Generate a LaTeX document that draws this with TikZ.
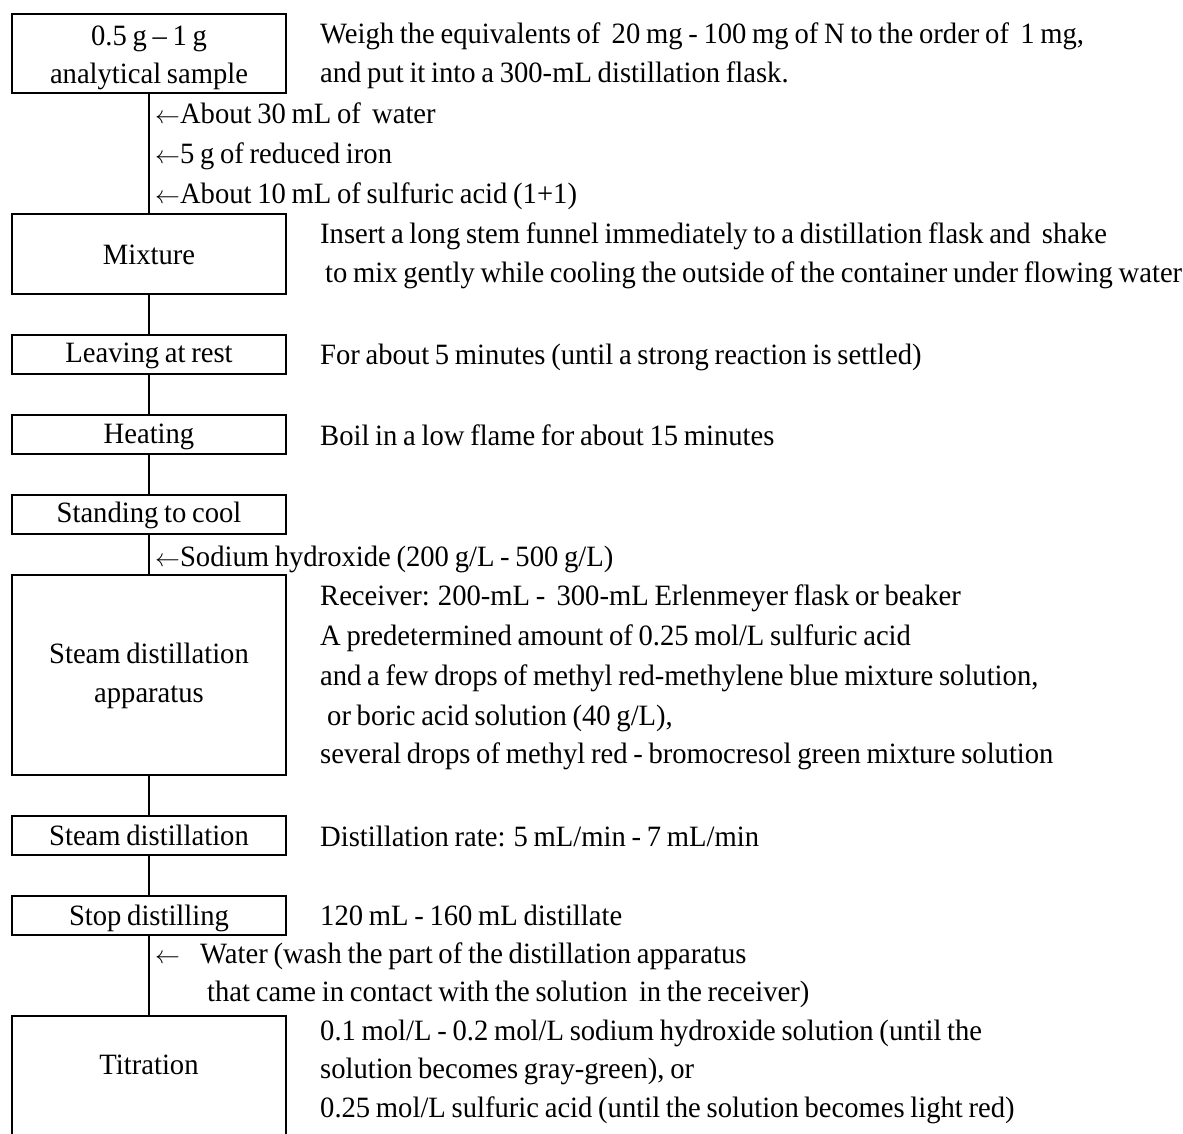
\documentclass[tikz,border=0pt]{standalone}
\usepackage{fontspec}
\setmainfont{Liberation Serif}[FakeStretch=0.97,WordSpace=0.8]
\newcommand\myfs{\fontsize{29.5}{38}\selectfont}
\newcommand\larr{$\leftarrow$}
\newcommand\wsp{\hspace{0.38em}}
\begin{document}
\begin{tikzpicture}[x=1pt,y=-1pt,
  box/.style={draw,line width=1.6pt,minimum width=274pt,inner sep=0pt},
  conn/.style={line width=1.6pt},
  txt/.style={anchor=base west,inner sep=0pt,font=\myfs},
  ctxt/.style={anchor=base,inner sep=0pt,font=\myfs}]
\useasboundingbox (0,0) rectangle (1183,1133);
\clip (0,0) rectangle (1183,1133);
% boxes
\node[box,minimum height=79pt] (b1) at (149,53.5) {};
\node[box,minimum height=80pt] (mix) at (149,254) {};
\node[box,minimum height=39pt] (rest) at (149,354.5) {};
\node[box,minimum height=39pt] (heat) at (149,434.5) {};
\node[box,minimum height=39pt] (cool) at (149,514.5) {};
\node[box,minimum height=200pt] (sda) at (149,675) {};
\node[box,minimum height=39pt] (sd) at (149,835.5) {};
\node[box,minimum height=39pt] (stop) at (149,915.5) {};
\node[box,minimum height=200pt] (tit) at (149,1116) {};
% box texts
\node[ctxt] (b1a) at (149,45) {0.5 g – 1 g};
\node[ctxt] (b1b) at (149,83) {analytical sample};
\node[ctxt] (mixt) at (149,264) {Mixture};
\node[ctxt] (restt) at (149,362) {Leaving at rest};
\node[ctxt] (heatt) at (149,443) {Heating};
\node[ctxt] (coolt) at (149,522) {Standing to cool};
\node[ctxt] (sdaa) at (149,663) {Steam distillation};
\node[ctxt] (sdab) at (149,702) {apparatus};
\node[ctxt] (sdt) at (149,845) {Steam distillation};
\node[ctxt] (stopt) at (149,925) {Stop distilling};
\node[ctxt] (titt) at (149,1074) {Titration};
% connectors
\draw[conn] (b1.south) -- (mix.north);
\draw[conn] (mix.south) -- (rest.north);
\draw[conn] (rest.south) -- (heat.north);
\draw[conn] (heat.south) -- (cool.north);
\draw[conn] (cool.south) -- (sda.north);
\draw[conn] (sda.south) -- (sd.north);
\draw[conn] (sd.south) -- (stop.north);
\draw[conn] (stop.south) -- (tit.north);
% right texts
\node[txt] (r1) at (320,43) {Weigh the equivalents of\wsp 20 mg - 100 mg of N to the order of\wsp 1 mg,};
\node[txt] (r2) at (320,82) {and put it into a 300-mL distillation flask.};
\node[txt] (a1) at (155,123) {\larr About 30 mL of\wsp water};
\node[txt] (a2) at (155,163) {\larr 5 g of reduced iron};
\node[txt] (a3) at (155,203) {\larr About 10 mL of sulfuric acid (1+1)};
\node[txt] (m1) at (320,243) {Insert a long stem funnel immediately to a distillation flask and\wsp shake};
\node[txt] (m2) at (325,282) {to mix gently while cooling the outside of the container under flowing water};
\node[txt] (l1) at (320,364) {For about 5 minutes (until a strong reaction is settled)};
\node[txt] (h1) at (320,445) {Boil in a low flame for about 15 minutes};
\node[txt] (a4) at (155,566) {\larr Sodium hydroxide (200 g/L - 500 g/L)};
\node[txt] (s1) at (320,605) {Receiver: 200-mL -\wsp 300-mL Erlenmeyer flask or beaker};
\node[txt] (s2) at (320,645) {A predetermined amount of 0.25 mol/L sulfuric acid};
\node[txt] (s3) at (320,685) {and a few drops of methyl red-methylene blue mixture solution,};
\node[txt] (s4) at (327,725) {or boric acid solution (40 g/L),};
\node[txt] (s5) at (320,763) {several drops of methyl red - bromocresol green mixture solution};
\node[txt] (d1) at (320,846) {Distillation rate: 5 mL/min - 7 mL/min};
\node[txt] (p1) at (320,925) {120 mL - 160 mL distillate};
\node[txt] (a5) at (155,963) {\larr};
\node[txt] (w1) at (200,963) {Water (wash the part of the distillation apparatus};
\node[txt] (w2) at (207,1001) {that came in contact with the solution\wsp in the receiver)};
\node[txt] (t1) at (320,1040) {0.1 mol/L - 0.2 mol/L sodium hydroxide solution (until the};
\node[txt] (t2) at (320,1078) {solution becomes gray-green), or};
\node[txt] (t3) at (320,1117) {0.25 mol/L sulfuric acid (until the solution becomes light red)};
\end{tikzpicture}
\end{document}
